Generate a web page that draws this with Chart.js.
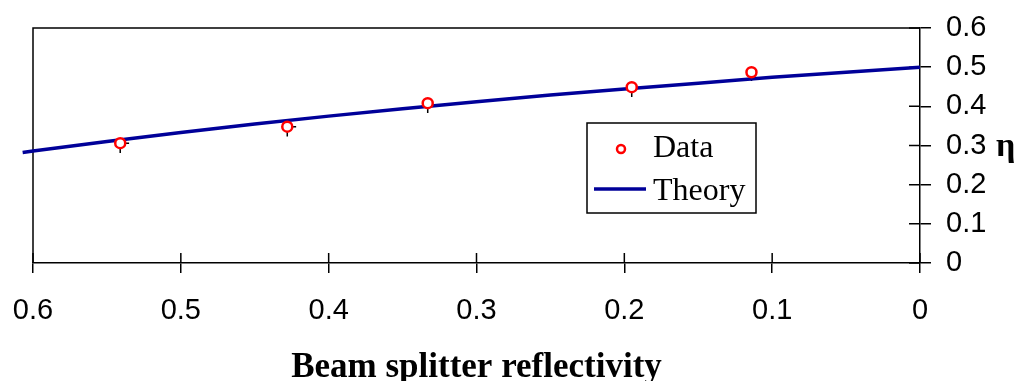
<!DOCTYPE html>
<html>
<head>
<meta charset="utf-8">
<script src="https://cdn.jsdelivr.net/npm/chart.js@4/dist/chart.umd.min.js"></script>
<style>
html, body { margin: 0; padding: 0; background: #fff; }
</style>
</head>
<body>
<canvas id="chartBox" width="1023" height="381"></canvas>
<script>
// measured points (beam splitter reflectivity R, efficiency eta)
const dataR = [0.541, 0.428, 0.333, 0.195, 0.114]
const dataEta = [0.306, 0.348, 0.408, 0.449, 0.487]
const errEtaDown = [0.025, 0.025, 0.025, 0.025, 0.022]
const errRRight = [0.006, 0.006, 0, 0, 0]

// theory curve
const theoryR = [0.607, 0.6, 0.55, 0.5, 0.45, 0.4, 0.35, 0.3, 0.25, 0.2, 0.15, 0.1, 0.05, 0]
const theoryEta = [0.282, 0.286, 0.310, 0.333, 0.355, 0.375, 0.394, 0.412, 0.429, 0.444, 0.459, 0.474, 0.487, 0.5]

const xTicks = [0.6, 0.5, 0.4, 0.3, 0.2, 0.1, 0]
const yTicks = [0, 0.1, 0.2, 0.3, 0.4, 0.5, 0.6]

const blue = '#000099'
const red = '#ff0000'

const noPad = s => {
    s.paddingLeft = 0
    s.paddingRight = 0
    s.paddingTop = 0
    s.paddingBottom = 0
}

const framePlugin = {
    id: 'frame',
    beforeDatasetsDraw(chart) {
        const ctx = chart.ctx
        const { left, top, right, bottom } = chart.chartArea
        const xs = chart.scales.x
        const ys = chart.scales.y
        ctx.save()
        ctx.strokeStyle = '#000'
        ctx.lineWidth = 1.5
        // top and left border of plot area
        ctx.beginPath()
        ctx.moveTo(left, bottom)
        ctx.lineTo(left, top)
        ctx.lineTo(right, top)
        ctx.stroke()
        // inner half of the cross ticks
        ctx.beginPath()
        xTicks.forEach(v => {
            const px = xs.getPixelForValue(v)
            ctx.moveTo(px, bottom)
            ctx.lineTo(px, bottom - 10)
        })
        yTicks.forEach(v => {
            const py = ys.getPixelForValue(v)
            ctx.moveTo(right, py)
            ctx.lineTo(right - 11, py)
        })
        ctx.stroke()
        // error bars
        ctx.beginPath()
        dataR.forEach((r, i) => {
            const px = xs.getPixelForValue(r)
            const py = ys.getPixelForValue(dataEta[i])
            ctx.moveTo(px, py)
            ctx.lineTo(px, ys.getPixelForValue(dataEta[i] - errEtaDown[i]))
            if (errRRight[i] > 0) {
                ctx.moveTo(px, py)
                ctx.lineTo(xs.getPixelForValue(r - errRRight[i]), py)
            }
        })
        ctx.stroke()
        ctx.restore()
    },
    afterDraw(chart) {
        const ctx = chart.ctx
        ctx.save()
        // legend box
        ctx.strokeStyle = '#000'
        ctx.lineWidth = 1.5
        ctx.strokeRect(587, 123, 169, 90)
        ctx.beginPath()
        ctx.arc(621, 149, 4, 0, Math.PI * 2)
        ctx.fillStyle = '#fff'
        ctx.fill()
        ctx.strokeStyle = red
        ctx.lineWidth = 2.5
        ctx.stroke()
        ctx.beginPath()
        ctx.strokeStyle = blue
        ctx.lineWidth = 3.5
        ctx.moveTo(594, 189)
        ctx.lineTo(646, 189)
        ctx.stroke()
        ctx.fillStyle = '#000'
        ctx.font = '32px "Liberation Serif"'
        ctx.textBaseline = 'alphabetic'
        ctx.fillText('Data', 653, 157)
        ctx.fillText('Theory', 653, 200)
        // y axis title
        ctx.font = 'bold 34px "Liberation Serif"'
        ctx.fillText('η', 996, 156)
        ctx.restore()
    }
}

const context = document.querySelector('#chartBox').getContext('2d')
const chart = new Chart(context, {
    type: 'scatter',
    data: {
        datasets: [{
            label: 'Data',
            data: dataR.map((r, i) => ({ x: r, y: dataEta[i] })),
            pointStyle: 'circle',
            pointRadius: 5,
            pointBorderWidth: 2.5,
            pointBackgroundColor: '#fff',
            pointBorderColor: red,
            showLine: false,
            order: 1
        }, {
            label: 'Theory',
            data: theoryR.map((r, i) => ({ x: r, y: theoryEta[i] })),
            showLine: true,
            borderColor: blue,
            borderWidth: 3.5,
            pointRadius: 0,
            tension: 0,
            clip: false,
            order: 2
        }]
    },
    options: {
        responsive: false,
        animation: false,
        devicePixelRatio: 1,
        layout: { padding: { left: 33, top: 28, right: 0, bottom: 0 } },
        plugins: {
            legend: { display: false },
            tooltip: { enabled: false }
        },
        scales: {
            x: {
                type: 'linear',
                position: 'bottom',
                reverse: true,
                min: 0,
                max: 0.6,
                afterBuildTicks: s => { s.ticks = xTicks.map(v => ({ value: v })) },
                afterFit: s => { s.height = 118; noPad(s) },
                grid: { drawOnChartArea: false, tickLength: 10, color: '#000', lineWidth: 1.5 },
                border: { display: true, color: '#000', width: 1.5 },
                ticks: {
                    color: '#000',
                    padding: 21,
                    maxRotation: 0,
                    font: { family: '"Liberation Sans"', size: 29 },
                    callback: v => String(+v.toFixed(1))
                },
                title: {
                    display: true,
                    text: 'Beam splitter reflectivity',
                    color: '#000',
                    padding: 0,
                    font: { family: '"Liberation Serif"', size: 35, weight: 'bold', lineHeight: 0.76 }
                }
            },
            y: {
                type: 'linear',
                position: 'right',
                min: 0,
                max: 0.6,
                afterBuildTicks: s => { s.ticks = yTicks.map(v => ({ value: v })) },
                afterFit: s => { s.width = 103; noPad(s) },
                grid: { drawOnChartArea: false, tickLength: 11, color: '#000', lineWidth: 1.5 },
                border: { display: true, color: '#000', width: 1.5 },
                ticks: {
                    color: '#000',
                    padding: 15,
                    font: { family: '"Liberation Sans"', size: 29 },
                    callback: v => String(+v.toFixed(1))
                }
            }
        }
    },
    plugins: [framePlugin]
})
</script>
</body>
</html>
